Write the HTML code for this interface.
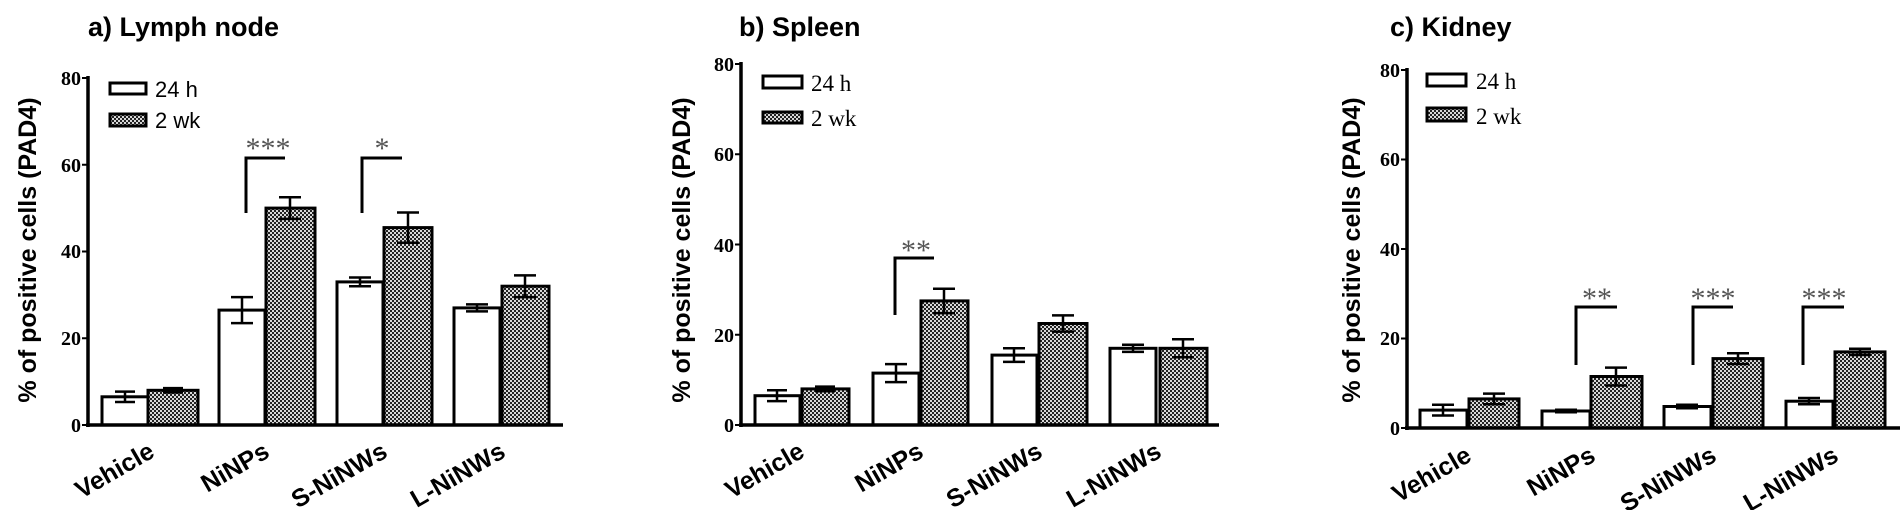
<!DOCTYPE html>
<html><head><meta charset="utf-8"><style>
html,body{margin:0;padding:0;background:#fff}
svg{display:block}
.t{font-family:"Liberation Sans",sans-serif;font-weight:bold;font-size:27px}
.yl{font-family:"Liberation Sans",sans-serif;font-weight:bold;font-size:25px}
.tk{font-family:"Liberation Serif",serif;font-weight:bold;font-size:20px}
.xl{font-family:"Liberation Sans",sans-serif;font-weight:bold;font-size:25px}
.lg{font-family:"Liberation Serif",serif;font-size:23px}
.lga{font-family:"Liberation Sans",sans-serif;font-size:22px}
.st{font-family:"Liberation Serif",serif;font-size:30px}
</style></head><body>
<svg width="1900" height="510" viewBox="0 0 1900 510" xmlns="http://www.w3.org/2000/svg">
<defs>
<pattern id="h" width="4" height="4" patternUnits="userSpaceOnUse">
<rect width="4" height="4" fill="#d8d8d8"/><rect width="2" height="2" fill="#222"/><rect x="2" y="2" width="2" height="2" fill="#222"/>
</pattern>
</defs>
<g stroke="#000" fill="none">

<!-- Panel a -->
<text class="t" x="88" y="36" fill="#000" stroke="none">a) Lymph node</text>
<g stroke-width="3">
<rect x="102" y="396.8" width="46" height="28.2" fill="#fff"/>
<rect x="148" y="390.3" width="50" height="34.7" fill="url(#h)"/>
<rect x="219" y="310.1" width="46" height="114.9" fill="#fff"/>
<rect x="266" y="208.1" width="49" height="216.9" fill="url(#h)"/>
<rect x="337" y="281.9" width="46" height="143.1" fill="#fff"/>
<rect x="384" y="227.6" width="48" height="197.4" fill="url(#h)"/>
<rect x="454" y="307.9" width="46" height="117.1" fill="#fff"/>
<rect x="502" y="286.2" width="47" height="138.8" fill="url(#h)"/>
</g>
<g stroke-width="2.5">
<path d="M125 391.6V402M115 391.6H135M115 402H135"/>
<path d="M173 388.1V392.5M163 388.1H183M163 392.5H183"/>
<path d="M242 297.1V323.1M231 297.1H253M231 323.1H253"/>
<path d="M290 197.2V218.9M279 197.2H301M279 218.9H301"/>
<path d="M360 277.5V286.2M349 277.5H371M349 286.2H371"/>
<path d="M408 212.5V242.8M397 212.5H419M397 242.8H419"/>
<path d="M477 304.4V311.4M466 304.4H488M466 311.4H488"/>
<path d="M525 275.4V297.1M514 275.4H536M514 297.1H536"/>
</g>
<path stroke-width="3.5" d="M88 76V427M86 425H563"/>
<path stroke-width="2" d="M82 78H88M82 164.8H88M82 251.5H88M82 338.3H88M82 425H88"/>
<g class="tk" fill="#000" stroke="none" text-anchor="end">
<text x="81" y="85">80</text><text x="81" y="172">60</text><text x="81" y="258">40</text><text x="81" y="345">20</text><text x="81" y="432">0</text></g>
<text class="yl" transform="translate(36,250) rotate(-90)" text-anchor="middle" fill="#000" stroke="none">% of positive cells (PAD4)</text>
<path stroke-width="3" d="M246 213V158H285M362 213V158H402"/>
<text class="st" x="268" y="158" text-anchor="middle" fill="#555" stroke="none">***</text>
<text class="st" x="382" y="158" text-anchor="middle" fill="#555" stroke="none">*</text>
<rect x="110" y="83" width="36" height="11" stroke-width="3" fill="#fff"/>
<rect x="110" y="114" width="36" height="12" stroke-width="3" fill="url(#h)"/>
<text class="lga" x="155" y="97" fill="#000" stroke="none">24 h</text>
<text class="lga" x="155" y="128" fill="#000" stroke="none">2 wk</text>
<g class="xl" fill="#000" stroke="none" text-anchor="end">
<text transform="translate(156,456) rotate(-30)">Vehicle</text>
<text transform="translate(271,456) rotate(-30)">NiNPs</text>
<text transform="translate(389,456) rotate(-30)">S-NiNWs</text>
<text transform="translate(507,456) rotate(-30)">L-NiNWs</text>
</g>

<!-- Panel b -->
<text class="t" x="739" y="36" fill="#000" stroke="none">b) Spleen</text>
<g stroke-width="3">
<rect x="755" y="395.7" width="45" height="29.3" fill="#fff"/>
<rect x="802" y="388.9" width="47" height="36.1" fill="url(#h)"/>
<rect x="873" y="373.1" width="46" height="51.9" fill="#fff"/>
<rect x="921" y="300.9" width="47" height="124.1" fill="url(#h)"/>
<rect x="992" y="355.1" width="45" height="69.9" fill="#fff"/>
<rect x="1039" y="323.5" width="48" height="101.5" fill="url(#h)"/>
<rect x="1110" y="348.3" width="46" height="76.7" fill="#fff"/>
<rect x="1160" y="348.3" width="47" height="76.7" fill="url(#h)"/>
</g>
<g stroke-width="2.5">
<path d="M777 390.3V401.1M767 390.3H787M767 401.1H787"/>
<path d="M825 386.6V391.2M815 386.6H835M815 391.2H835"/>
<path d="M896 364.1V382.1M885 364.1H907M885 382.1H907"/>
<path d="M944 288.7V313.1M933 288.7H955M933 313.1H955"/>
<path d="M1014 348.3V361.9M1003 348.3H1025M1003 361.9H1025"/>
<path d="M1063 315.4V331.6M1052 315.4H1074M1052 331.6H1074"/>
<path d="M1133 344.7V351.9M1122 344.7H1144M1122 351.9H1144"/>
<path d="M1183 339.3V357.3M1172 339.3H1194M1172 357.3H1194"/>
</g>
<path stroke-width="3.5" d="M741 62V427M739 425H1219"/>
<path stroke-width="2" d="M735 64H741M735 154.3H741M735 244.5H741M735 334.8H741M735 425H741"/>
<g class="tk" fill="#000" stroke="none" text-anchor="end">
<text x="734" y="71">80</text><text x="734" y="161">60</text><text x="734" y="252">40</text><text x="734" y="342">20</text><text x="734" y="432">0</text></g>
<text class="yl" transform="translate(690,250) rotate(-90)" text-anchor="middle" fill="#000" stroke="none">% of positive cells (PAD4)</text>
<path stroke-width="3" d="M895 315V258H934"/>
<text class="st" x="916" y="260" text-anchor="middle" fill="#555" stroke="none">**</text>
<rect x="763" y="76" width="39" height="12" stroke-width="3" fill="#fff"/>
<rect x="763" y="112" width="39" height="11" stroke-width="3" fill="url(#h)"/>
<text class="lg" x="811" y="91" fill="#000" stroke="none">24 h</text>
<text class="lg" x="811" y="126" fill="#000" stroke="none">2 wk</text>
<g class="xl" fill="#000" stroke="none" text-anchor="end">
<text transform="translate(806,456) rotate(-30)">Vehicle</text>
<text transform="translate(925,456) rotate(-30)">NiNPs</text>
<text transform="translate(1044,456) rotate(-30)">S-NiNWs</text>
<text transform="translate(1163,456) rotate(-30)">L-NiNWs</text>
</g>

<!-- Panel c -->
<text class="t" x="1390" y="36" fill="#000" stroke="none">c) Kidney</text>
<g stroke-width="3">
<rect x="1420" y="410.1" width="47" height="17.9" fill="#fff"/>
<rect x="1469" y="398.9" width="50" height="29.1" fill="url(#h)"/>
<rect x="1542" y="411" width="48" height="17" fill="#fff"/>
<rect x="1591" y="376.5" width="51" height="51.5" fill="url(#h)"/>
<rect x="1664" y="406.5" width="47" height="21.5" fill="#fff"/>
<rect x="1713" y="358.6" width="50" height="69.4" fill="url(#h)"/>
<rect x="1786" y="401.2" width="47" height="26.8" fill="#fff"/>
<rect x="1835" y="351.9" width="50" height="76.1" fill="url(#h)"/>
</g>
<g stroke-width="2.5">
<path d="M1443 404.7V415.5M1432 404.7H1454M1432 415.5H1454"/>
<path d="M1494 393.6V404.3M1483 393.6H1505M1483 404.3H1505"/>
<path d="M1566 409.7V412.3M1555 409.7H1577M1555 412.3H1577"/>
<path d="M1616 367.6V385.5M1605 367.6H1627M1605 385.5H1627"/>
<path d="M1687 404.7V408.3M1676 404.7H1698M1676 408.3H1698"/>
<path d="M1738 353.3V364M1727 353.3H1749M1727 364H1749"/>
<path d="M1809 398V404.3M1798 398H1820M1798 404.3H1820"/>
<path d="M1860 348.8V355M1849 348.8H1871M1849 355H1871"/>
</g>
<path stroke-width="3.5" d="M1407 68V430M1405 428H1900"/>
<path stroke-width="2" d="M1401 70H1407M1401 159.5H1407M1401 249H1407M1401 338.5H1407M1401 428H1407"/>
<g class="tk" fill="#000" stroke="none" text-anchor="end">
<text x="1400" y="77">80</text><text x="1400" y="166">60</text><text x="1400" y="256">40</text><text x="1400" y="345">20</text><text x="1400" y="435">0</text></g>
<text class="yl" transform="translate(1360,250) rotate(-90)" text-anchor="middle" fill="#000" stroke="none">% of positive cells (PAD4)</text>
<path stroke-width="3" d="M1576 365V307H1617M1693 365V307H1733M1803 365V307H1844"/>
<text class="st" x="1597" y="308" text-anchor="middle" fill="#555" stroke="none">**</text>
<text class="st" x="1713" y="308" text-anchor="middle" fill="#555" stroke="none">***</text>
<text class="st" x="1824" y="308" text-anchor="middle" fill="#555" stroke="none">***</text>
<rect x="1427" y="74" width="39" height="12" stroke-width="3" fill="#fff"/>
<rect x="1427" y="108" width="39" height="13" stroke-width="3" fill="url(#h)"/>
<text class="lg" x="1476" y="89" fill="#000" stroke="none">24 h</text>
<text class="lg" x="1476" y="124" fill="#000" stroke="none">2 wk</text>
<g class="xl" fill="#000" stroke="none" text-anchor="end">
<text transform="translate(1473,460) rotate(-30)">Vehicle</text>
<text transform="translate(1597,460) rotate(-30)">NiNPs</text>
<text transform="translate(1718,460) rotate(-30)">S-NiNWs</text>
<text transform="translate(1840,460) rotate(-30)">L-NiNWs</text>
</g>
</g>
</svg>
</body></html>
